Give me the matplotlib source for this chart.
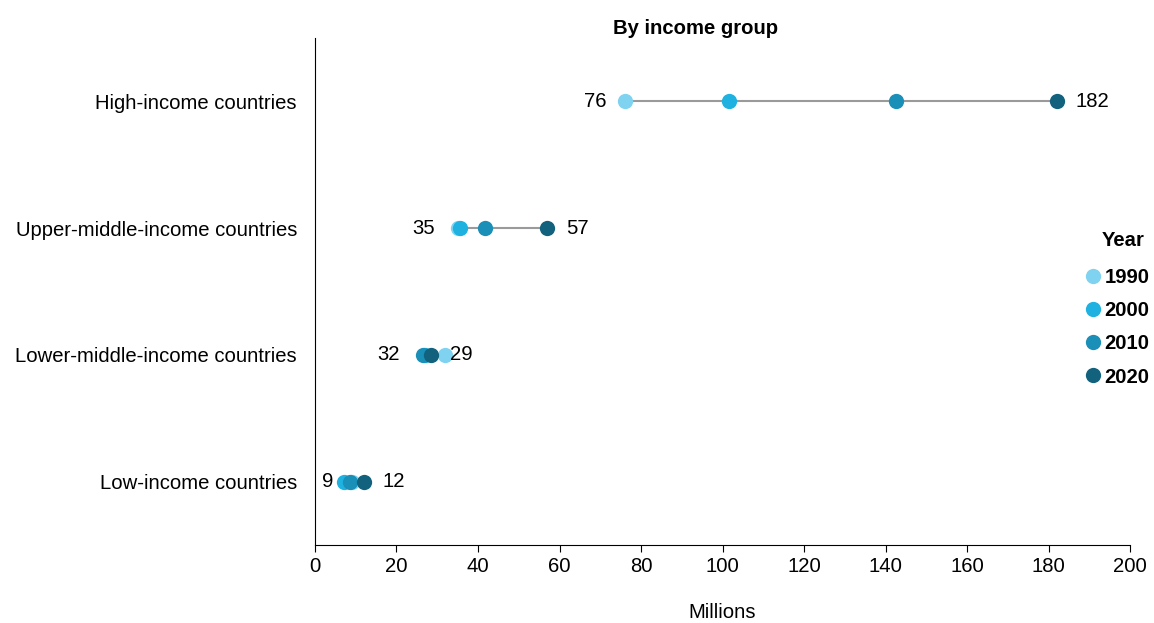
import matplotlib
matplotlib.use("Agg")
import matplotlib.pyplot as plt
from matplotlib.lines import Line2D
import numpy as np

plt.rcParams['font.family'] = ['Liberation Sans', 'DejaVu Sans']

categories = ["High-income countries", "Upper-middle-income countries",
              "Lower-middle-income countries", "Low-income countries"]
years = ["1990", "2000", "2010", "2020"]
v1990 = [76, 35, 32, 9]
v2000 = [101.5, 35.6, 27, 7]
v2010 = [142.5, 41.7, 26.6, 8.5]
v2020 = [182, 57, 28.5, 12]
label_left = ["76", "35", "32", "9"]
label_right = ["182", "57", "29", "12"]
colors = ["#7fd3f0", "#1fb2e0", "#1a8fb8", "#12627e"]

FS = 14.6
fig = plt.figure(figsize=(11.54, 6.23), dpi=100)
ax = fig.add_axes([315/1154, 1-545/623, (1130-315)/1154, (545-38)/623])

left_off_px = [18, 23, 24, 10]
ypos = np.arange(len(categories))[::-1]
series = [v1990, v2000, v2010, v2020]
for i, y in enumerate(ypos):
    vals = [s[i] for s in series]
    ax.plot([min(vals), max(vals)], [y, y], color="#9a9a9a", lw=1.5, zorder=1)
    for s, c in zip(series, colors):
        ax.plot(s[i], y, 'o', color=c, ms=11, mec='none', zorder=2)
    ax.annotate(label_left[i], (min(vals), y), xytext=(-left_off_px[i]*0.72, 0),
                textcoords='offset points', ha='right', va='center', fontsize=FS)
    ax.annotate(label_right[i], (v2020[i], y), xytext=(19*0.72, 0), textcoords='offset points',
                ha='left', va='center', fontsize=FS)

ax.set_xlim(0, 200)
ax.set_ylim(-0.5, 3.5)
ax.set_xticks(np.arange(0, 201, 20))
ax.set_yticks(ypos)
ax.set_yticklabels(categories, fontsize=FS)
ax.tick_params(axis='y', length=0, pad=13)
ax.tick_params(axis='x', labelsize=FS, length=5, pad=4)
for sp in ['top', 'right']:
    ax.spines[sp].set_visible(False)
ax.set_xlabel("Millions", fontsize=FS, labelpad=19)

fig.text(696/1154, 1-28/623, "By income group", ha='center', va='center',
         fontsize=FS, fontweight='bold')

fig.text(1123/1154, 1-240/623, "Year", ha='center', va='center',
         fontsize=FS, fontweight='bold')
handles = [Line2D([0], [0], marker='o', color='none', markerfacecolor=c, mec='none', ms=11)
           for c in colors]
leg = fig.legend(handles, years, loc='upper left', bbox_to_anchor=(1078/1154, 1-268/623),
                 frameon=False, prop={'weight': 'bold', 'size': FS},
                 handletextpad=-0.2, handlelength=1.5, labelspacing=0.7, borderpad=0,
                 borderaxespad=0)

fig.savefig("out.png", dpi=100)
